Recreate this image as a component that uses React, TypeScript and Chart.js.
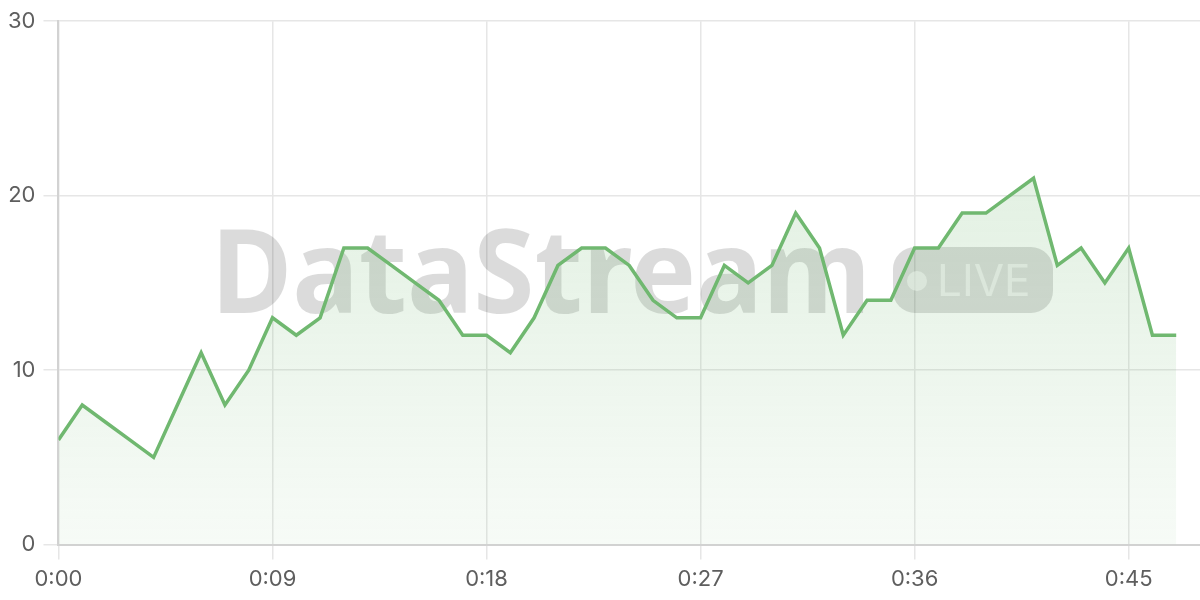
import React, { useEffect, useRef } from "react";
import { Chart, registerables } from "chart.js";

Chart.register(...registerables);

// seconds since start
const seconds = [
  0, 1, 2, 3, 4, 5, 6, 7, 8, 9, 10, 11, 12, 13, 14, 15, 16, 17, 18, 19, 20, 21, 22, 23,
  24, 25, 26, 27, 28, 29, 30, 31, 32, 33, 34, 35, 36, 37, 38, 39, 40, 41, 42, 43, 44, 45, 46, 47,
];
const values = [
  6, 8, 7, 6, 5, 8, 11, 8, 10, 13, 12, 13, 17, 17, 16, 15, 14, 12, 12, 11, 13, 16, 17, 17,
  16, 14, 13, 13, 16, 15, 16, 19, 17, 12, 14, 14, 17, 17, 19, 19, 20, 21, 16, 17, 15, 17, 12, 12,
];
const xTicks = [0, 9, 18, 27, 36, 45];
const yTicks = [0, 10, 20, 30];

const fmtTime = (s: number) => {
  const m = Math.floor(s / 60);
  const sec = s % 60;
  return m + ":" + String(sec).padStart(2, "0");
};

const watermark = {
  id: "watermark",
  beforeDatasetsDraw(chart: any) {
    const ctx = chart.ctx;
    ctx.save();
    // big title
    ctx.fillStyle = "rgba(0,0,0,0.14)";
    ctx.font = "bold 116px 'Noto Sans'";
    ctx.textBaseline = "alphabetic";
    ctx.textAlign = "left";
    const w = ctx.measureText("DataStream").width;
    const target = 660;
    ctx.save();
    ctx.translate(211, 313);
    ctx.scale(target / w, 1);
    ctx.fillText("DataStream", 0, 0);
    ctx.restore();
    // badge
    ctx.beginPath();
    ctx.roundRect(893, 247, 160, 66, 22);
    ctx.fill();
    ctx.fillStyle = "rgba(255,255,255,0.55)";
    ctx.beginPath();
    ctx.arc(917, 281, 10, 0, Math.PI * 2);
    ctx.fill();
    ctx.font = "44px 'Inter'";
    ctx.fillText("LIVE", 937, 296);
    ctx.restore();
  },
};

const App: React.FC = () => {
  const chartRef = useRef<HTMLCanvasElement | null>(null);

  useEffect(() => {
    if (!chartRef.current) return;
    const ctx = chartRef.current.getContext("2d");
    if (!ctx) return;

    const chart = new Chart(ctx, {
      type: "line",
      data: {
        datasets: [
          {
            data: seconds.map((s, i) => ({ x: s, y: values[i] })),
            borderColor: "#70b870",
            borderWidth: 3.5,
            pointRadius: 0,
            tension: 0,
            fill: "origin",
            backgroundColor: (c: any) => {
              const area = c.chart.chartArea;
              if (!area) return "rgba(114,184,114,0.15)";
              const g = c.chart.ctx.createLinearGradient(0, area.top, 0, area.bottom);
              g.addColorStop(0, "rgba(114,184,114,0.26)");
              g.addColorStop(1, "rgba(114,184,114,0.06)");
              return g;
            },
          },
        ],
      },
      options: {
        animation: false,
        responsive: true,
        maintainAspectRatio: false,
        layout: { padding: { top: 7, left: 0, right: 0, bottom: 0 } },
        plugins: {
          legend: { display: false },
          tooltip: { enabled: false },
        },
        scales: {
          x: {
            type: "linear",
            min: 0,
            max: 48,
            afterBuildTicks: (scale: any) => {
              scale.ticks = xTicks.map((v) => ({ value: v }));
            },
            grid: { color: "#e6e6e6", lineWidth: 1.5, tickLength: 15 },
            border: { color: "#d2d2d2", width: 2 },
            ticks: {
              color: "#5e5e5e",
              font: { family: "Inter", size: 22 },
              padding: 7,
              maxRotation: 0,
              autoSkip: false,
              callback: (v: any) => fmtTime(Number(v)),
            },
          },
          y: {
            min: 0,
            max: 30,
            afterBuildTicks: (scale: any) => {
              scale.ticks = yTicks.map((v) => ({ value: v }));
            },
            grid: { color: "#e6e6e6", lineWidth: 1.5, tickLength: 15 },
            border: { color: "#d2d2d2", width: 2 },
            ticks: {
              color: "#5e5e5e",
              font: { family: "Inter", size: 22 },
              padding: 8,
            },
          },
        },
      },
      plugins: [watermark],
    });

    return () => {
      chart.destroy();
    };
  }, []);

  return (
    <div style={{ position: "fixed", left: 0, top: 0, width: 1200, height: 600, background: "#fff" }}>
      <canvas ref={chartRef}></canvas>
    </div>
  );
};

export default App;
